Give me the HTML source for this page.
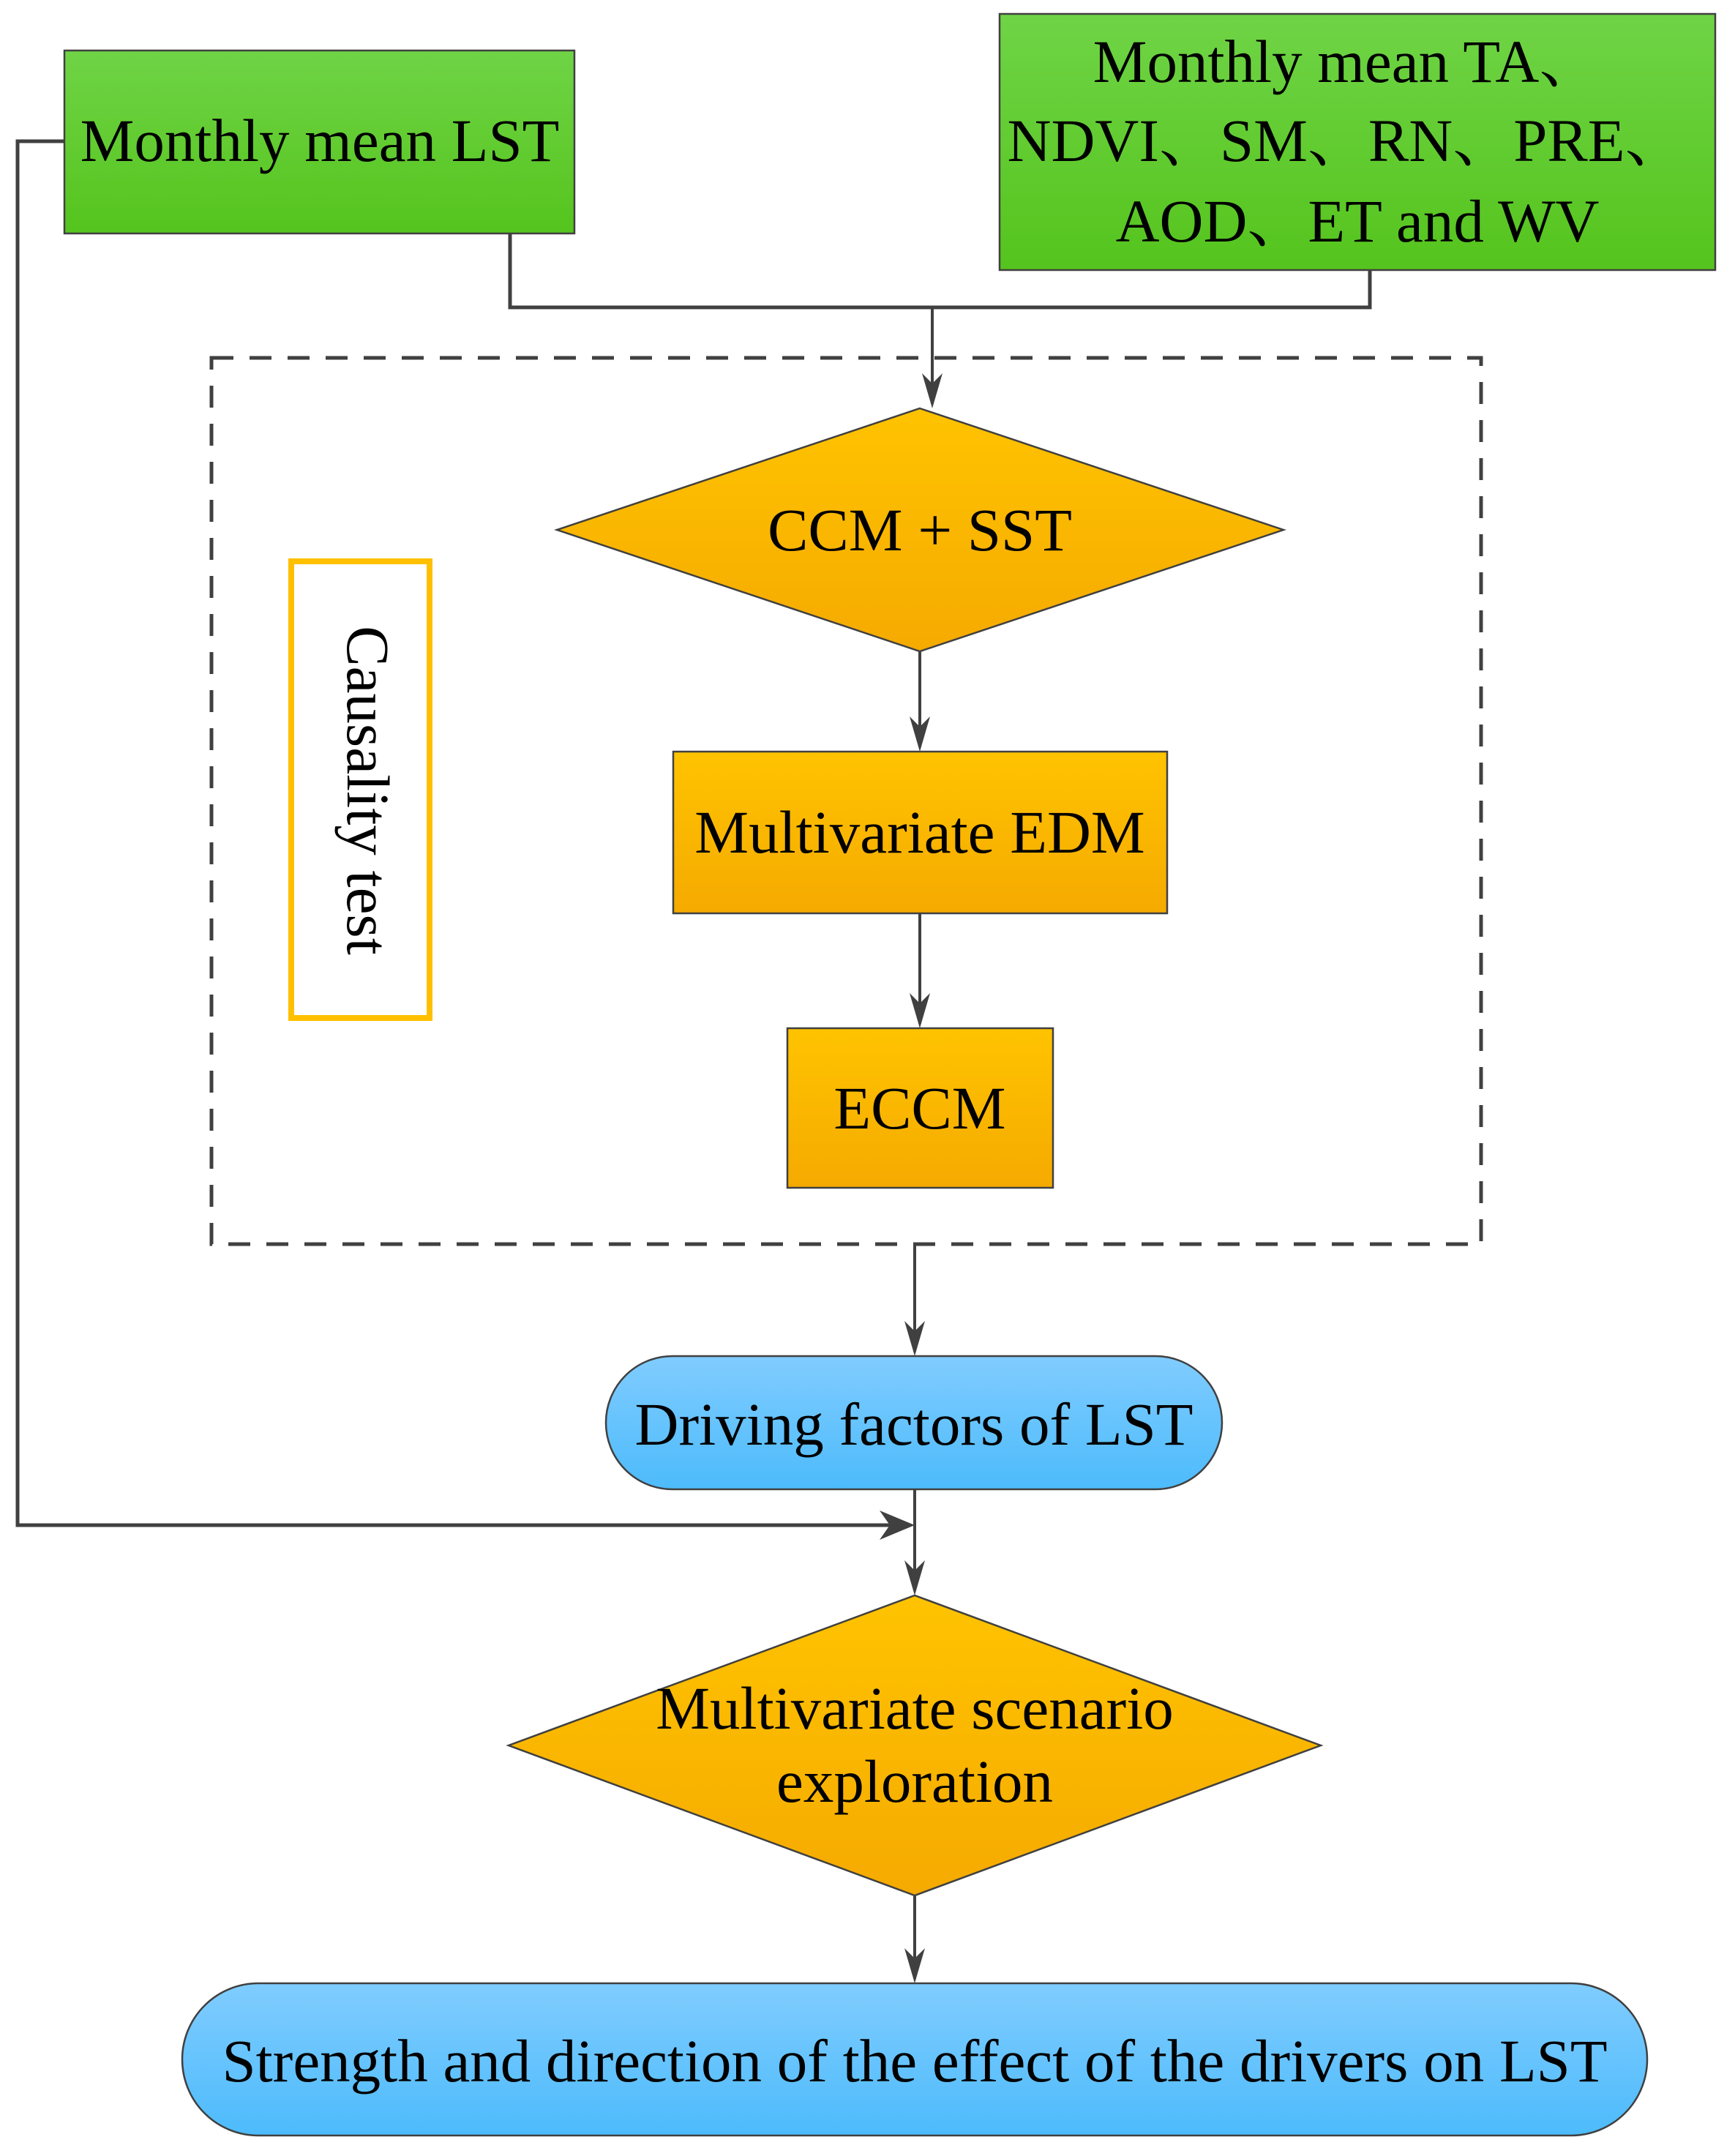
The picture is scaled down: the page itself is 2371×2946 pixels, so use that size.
<!DOCTYPE html>
<html><head><meta charset="utf-8"><style>html,body{margin:0;padding:0;background:#fff}svg{display:block}</style></head>
<body>
<svg width="2371" height="2946" viewBox="0 0 2371 2946" xmlns="http://www.w3.org/2000/svg" font-family="'Liberation Serif', 'Noto Serif CJK SC', serif">
<defs>
<linearGradient id="g" x1="0" y1="0" x2="0" y2="1"><stop offset="0" stop-color="#6fd446"/><stop offset="1" stop-color="#55c41d"/></linearGradient>
<linearGradient id="o" x1="0" y1="0" x2="0" y2="1"><stop offset="0" stop-color="#ffc300"/><stop offset="1" stop-color="#f5aa00"/></linearGradient>
<linearGradient id="b" x1="0" y1="0" x2="0" y2="1"><stop offset="0" stop-color="#80ccff"/><stop offset="1" stop-color="#4dbbfb"/></linearGradient>
</defs>
<g stroke="#404040" stroke-width="2.5">
<rect x="88" y="69" width="697" height="250" fill="url(#g)"/>
<rect x="1366" y="19" width="978" height="350" fill="url(#g)"/>
<rect x="289" y="489" width="1735" height="1211" fill="none" stroke-width="5" stroke-dasharray="30,22"/>
<polygon points="1257,558 1754,724 1257,890 761,724" fill="url(#o)"/>
<rect x="920" y="1027" width="675" height="221" fill="url(#o)"/>
<rect x="1076" y="1405" width="363" height="218" fill="url(#o)"/>
<rect x="828" y="1853" width="842" height="182" rx="91" fill="url(#b)"/>
<polygon points="1250,2180 1805,2385 1250,2590 695,2385" fill="url(#o)"/>
<rect x="249" y="2710" width="2002" height="208" rx="104" fill="url(#b)"/>
</g>
<rect x="398" y="767" width="189" height="624" fill="#fff" stroke="#ffc000" stroke-width="8"/>
<g stroke="#404040" stroke-width="5" fill="none">
<polyline points="697,319 697,420 1872,420 1872,369"/>
<line x1="1274" y1="420" x2="1274" y2="552" stroke-width="4"/>
<line x1="1257" y1="890" x2="1257" y2="1021" stroke-width="4"/>
<line x1="1257" y1="1248" x2="1257" y2="1399" stroke-width="4"/>
<line x1="1250" y1="1700" x2="1250" y2="1847" stroke-width="4"/>
<line x1="1250" y1="2035" x2="1250" y2="2174" stroke-width="4"/>
<line x1="1250" y1="2590" x2="1250" y2="2704" stroke-width="4"/>
<polyline points="88,193 24,193 24,2084 1244,2084"/>
</g>
<g fill="#404040">
<path d="M1274,558 l-14,-48 l14,14 l14,-14z"/>
<path d="M1257,1027 l-14,-48 l14,14 l14,-14z"/>
<path d="M1257,1405 l-14,-48 l14,14 l14,-14z"/>
<path d="M1250,1853 l-14,-48 l14,14 l14,-14z"/>
<path d="M1250,2180 l-14,-48 l14,14 l14,-14z"/>
<path d="M1250,2710 l-14,-48 l14,14 l14,-14z"/>
<path d="M1250,2084 l-48,-20 l14,20 l-14,20z"/>
</g>
<g font-size="83" fill="#000" text-anchor="middle">
<text x="437" y="220">Monthly mean LST</text>
<text x="1840" y="112">Monthly mean TA、</text>
<text x="1840" y="220">NDVI、SM、RN、PRE、</text>
<text x="1855" y="330">AOD、ET and WV</text>
<text x="1257" y="752">CCM + SST</text>
<text x="1257" y="1165">Multivariate EDM</text>
<text x="1257" y="1542">ECCM</text>
<text x="1249" y="1974">Driving factors of LST</text>
<text x="1250" y="2362">Multivariate scenario</text>
<text x="1250" y="2462">exploration</text>
<text x="1250" y="2844">Strength and direction of the effect of the drivers on LST</text>
<text x="0" y="0" transform="translate(475,1080) rotate(90)">Causality test</text>
</g>
</svg>
</body></html>
